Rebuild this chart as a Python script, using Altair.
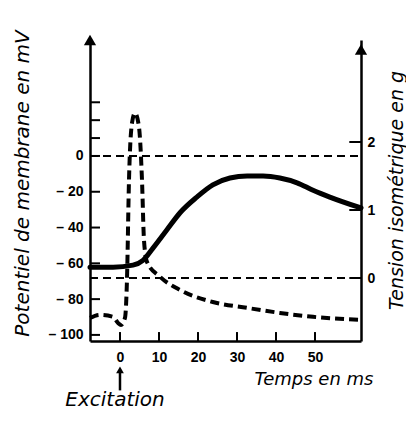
import altair as alt
import pandas as pd

# ---- data ----
# membrane potential (mV) vs time (ms)
t_mv = [-7.69, -5.13, -1.79, -0.5, 0.26, 1.28, 1.79, 2.31, 3.08, 3.85, 4.87, 5.64, 6.15, 6.92,
        10.3, 15.4, 23.8, 32.6, 41.0, 49.5, 61.8]
mv = [-90.5, -88.8, -89.9, -93.3, -94.4, -90.5, -69.3, -13.4, 18.4, 24.0, 16.2, -13.4, -46.9, -59.2,
      -67.6, -74.9, -81.6, -84.9, -87.7, -89.9, -91.6]

# isometric tension (g) vs time (ms)
t_g = [-7.69, -1.79, 3.33, 5.9, 8.46, 12.05, 15.4, 19.7, 23.8, 28.2, 32.6, 36.7, 41.0, 45.4,
       49.5, 53.8, 61.8]
g = [0.16, 0.16, 0.19, 0.26, 0.44, 0.71, 0.96, 1.19, 1.37, 1.47, 1.50, 1.50, 1.47, 1.40,
     1.29, 1.19, 1.03]

x_ticks = [0, 10, 20, 30, 40, 50]
mv_labels = [0, -20, -40, -60, -80, -100]
mv_minor = [30, 20, 10]
g_ticks = [0, 1, 2]

X_DOM = [-7.69, 61.8]
MV_DOM = [-103.4, 64.8]
G_DOM = [-0.926, 3.5]

LBL_FONT = "Liberation Sans"
TXT_FONT = "DejaVu Sans"

xs = alt.Scale(domain=X_DOM, nice=False, zero=False)
mvs = alt.Scale(domain=MV_DOM, nice=False, zero=False)
gs = alt.Scale(domain=G_DOM, nice=False, zero=False)

x_axis = alt.Axis(values=x_ticks, title="Temps en ms", ticks=False, grid=False, labelPadding=9,
                  labelFont=LBL_FONT, labelFontSize=14, labelFontWeight="bold", labelColor="black",
                  titleFont=TXT_FONT, titleFontStyle="italic", titleFontWeight="normal", titleFontSize=18,
                  titleColor="black", titleX=283, titleY=38, titleAlign="right", titleBaseline="middle",
                  domainColor="black", domainWidth=2.5)

mv_axis = alt.Axis(orient="left", values=mv_labels, ticks=False, grid=False, labelPadding=7,
                   labelExpr="datum.value == 0 ? '0' : '\u2013  ' + abs(datum.value)",
                   labelFont=LBL_FONT, labelFontSize=14, labelFontWeight="bold", labelColor="black",
                   labelOverlap=False,
                   title="Potentiel de membrane en mV", titleFont=TXT_FONT, titleFontStyle="italic",
                   titleFontWeight="normal", titleFontSize=20, titleColor="black", titleAngle=270,
                   titleX=-68, titleY=143, titleAlign="center", titleBaseline="middle",
                   domainColor="black", domainWidth=2.5)

g_axis = alt.Axis(orient="right", values=g_ticks, ticks=False, grid=False, labelPadding=6,
                  labelFont=LBL_FONT, labelFontSize=14, labelFontWeight="bold", labelColor="black",
                  title="Tension isométrique en g", titleFont=TXT_FONT, titleFontStyle="italic",
                  titleFontWeight="normal", titleFontSize=19, titleColor="black", titleAngle=270,
                  titleX=35, titleY=150, titleAlign="center", titleBaseline="middle",
                  domainColor="black", domainWidth=2.5)


def X(field):
    return alt.X(f"{field}:Q", scale=xs, axis=x_axis)


df_mv = pd.DataFrame({"t": t_mv, "mv": mv})
df_g = pd.DataFrame({"t": t_g, "g": g})

mv_line = alt.Chart(df_mv).mark_line(color="black", strokeWidth=4, strokeDash=[9, 5],
                                     interpolate="monotone").encode(
    x=X("t"), y=alt.Y("mv:Q", scale=mvs, axis=mv_axis))

g_line = alt.Chart(df_g).mark_line(color="black", strokeWidth=5, interpolate="monotone",
                                   strokeCap="round").encode(
    x=X("t"), y=alt.Y("g:Q", scale=gs, axis=g_axis))

ref_mv = alt.Chart(pd.DataFrame({"a": [X_DOM[0]], "b": [X_DOM[1]], "v": [0]})).mark_rule(
    color="black", strokeWidth=2, strokeDash=[8, 5]).encode(
    x=X("a"), x2="b", y=alt.Y("v:Q", scale=mvs, axis=None))

ref_g = alt.Chart(pd.DataFrame({"a": [X_DOM[0]], "b": [X_DOM[1]], "v": [0]})).mark_rule(
    color="black", strokeWidth=2, strokeDash=[8, 5]).encode(
    x=X("a"), x2="b", y=alt.Y("v:Q", scale=gs, axis=None))

# inward tick marks
left_ticks = pd.DataFrame({"v": mv_minor + mv_labels})
left_ticks["a"] = X_DOM[0]
left_ticks["b"] = X_DOM[0] + 2.56
lt = alt.Chart(left_ticks).mark_rule(color="black", strokeWidth=2).encode(
    x=X("a"), x2="b", y=alt.Y("v:Q", scale=mvs, axis=None))

right_ticks = pd.DataFrame({"v": g_ticks})
right_ticks["a"] = X_DOM[1] - 3.0
right_ticks["b"] = X_DOM[1]
rt = alt.Chart(right_ticks).mark_rule(color="black", strokeWidth=2).encode(
    x=X("a"), x2="b", y=alt.Y("v:Q", scale=gs, axis=None))

bottom_ticks = pd.DataFrame({"t": x_ticks})
bottom_ticks["a"] = MV_DOM[0]
bottom_ticks["b"] = MV_DOM[0] + 5.0
bt = alt.Chart(bottom_ticks).mark_rule(color="black", strokeWidth=2).encode(
    x=X("t"), y=alt.Y("a:Q", scale=mvs, axis=None), y2="b")

# axis arrowheads
arr_l = alt.Chart(pd.DataFrame({"t": [X_DOM[0]], "v": [MV_DOM[1]]})).mark_point(
    shape="triangle-up", filled=True, color="black", size=150, opacity=1).encode(
    x=X("t"), y=alt.Y("v:Q", scale=mvs, axis=None))
arr_r = alt.Chart(pd.DataFrame({"t": [X_DOM[1]], "v": [3.36]})).mark_point(
    shape="triangle-up", filled=True, color="black", size=150, opacity=1).encode(
    x=X("t"), y=alt.Y("v:Q", scale=gs, axis=None))

# excitation arrow + label
exc_rule = alt.Chart(pd.DataFrame({"t": [0], "a": [-120.0], "b": [-131.0]})).mark_rule(
    color="black", strokeWidth=2.5).encode(
    x=X("t"), y=alt.Y("a:Q", scale=mvs, axis=None), y2="b")
exc_head = alt.Chart(pd.DataFrame({"t": [0], "v": [-119.5]})).mark_point(
    shape="triangle-up", filled=True, color="black", size=60, opacity=1).encode(
    x=X("t"), y=alt.Y("v:Q", scale=mvs, axis=None))
exc_text = alt.Chart(pd.DataFrame({"t": [-1.28], "v": [-136.5], "s": ["Excitation"]})).mark_text(
    font=TXT_FONT, fontStyle="italic", fontSize=20, color="black", align="center",
    baseline="middle").encode(
    x=X("t"), y=alt.Y("v:Q", scale=mvs, axis=None), text="s:N")

chart = alt.layer(
    mv_line, g_line, ref_mv, ref_g, lt, rt, bt, arr_l, arr_r, exc_rule, exc_head, exc_text
).resolve_scale(y="independent").properties(
    width=271, height=301,
    padding={"left": 82, "top": 32, "right": 45, "bottom": 72},
    autosize=alt.AutoSizeParams(type="none"),
    background="white",
).configure_view(stroke=None)

chart.save("out.html", embed_options={"renderer": "svg", "actions": False})
